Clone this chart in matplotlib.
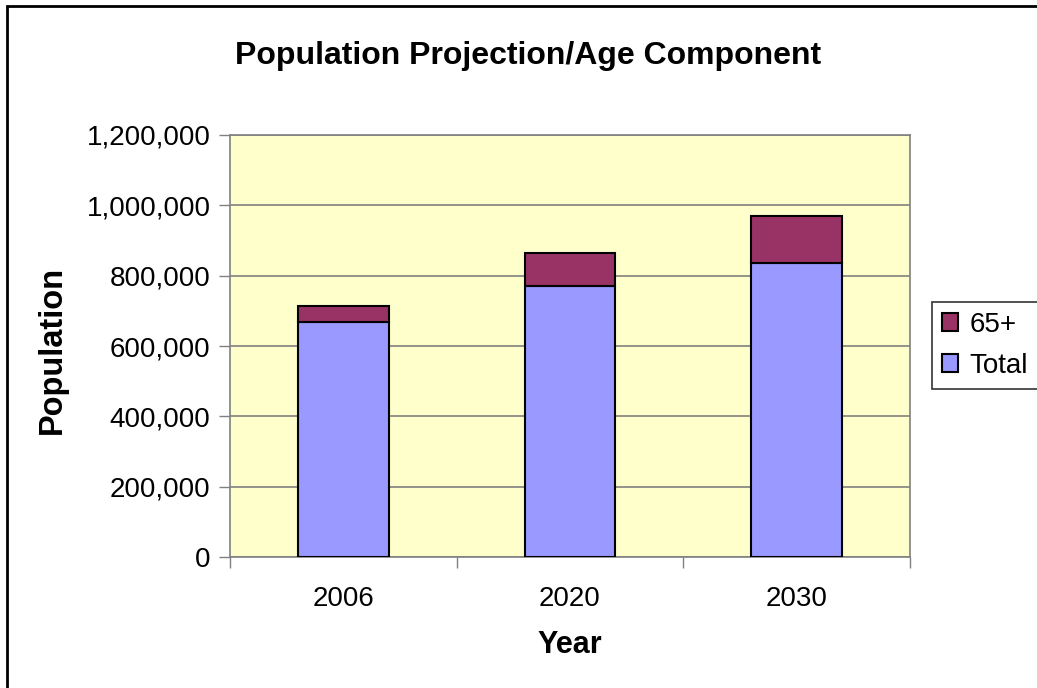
import matplotlib
matplotlib.use("Agg")
import matplotlib.pyplot as plt
from matplotlib.patches import Rectangle
import numpy as np

plt.rcParams['font.family'] = ['Liberation Sans', 'DejaVu Sans']

years = ['2006', '2020', '2030']
total = [669000, 771000, 835000]
age65 = [45500, 94600, 135400]

W, H = 1037, 688
fig = plt.figure(figsize=(W/100, H/100), dpi=100)
ax = fig.add_axes([230/W, 1 - 557/H, (910-230)/W, (557-135)/H])
ax.set_facecolor('#FFFFCC')

x = np.arange(len(years))
ax.bar(x, total, width=0.4, color='#9999FF', edgecolor='black', linewidth=1.5,
       label='Total', zorder=3)
ax.bar(x, age65, bottom=total, width=0.4, color='#993366', edgecolor='black',
       linewidth=1.5, label='65+', zorder=3)

ax.set_xlim(-0.5, 2.5)
ax.set_ylim(0, 1200000)
ax.set_yticks(np.arange(0, 1200001, 200000))
ax.yaxis.set_major_formatter(matplotlib.ticker.FuncFormatter(lambda v, p: f'{int(v):,}'))
ax.yaxis.grid(True, color='#808080', linewidth=1.2, zorder=0)
ax.set_xticks(x)
ax.set_xticklabels(years)
ax.set_xticks([-0.5, 0.5, 1.5, 2.5], minor=True)
ax.tick_params(axis='x', which='major', length=0, labelsize=20, pad=21)
ax.tick_params(axis='x', which='minor', length=8, width=1, color='#808080', direction='out')
ax.tick_params(axis='y', length=8, width=1, color='#808080', labelsize=20, pad=6)
for s in ax.spines.values():
    s.set_color('#808080')
    s.set_linewidth(1.2)

fig.text(528/W, 1 - 56/H, 'Population Projection/Age Component', fontsize=23,
         fontweight='bold', ha='center', va='center')
fig.text(52/W, 1 - 350/H, 'Population', fontsize=23.5, fontweight='bold',
         rotation=90, ha='center', va='center')
fig.text(570/W, 1 - 645/H, 'Year', fontsize=22, fontweight='bold',
         ha='center', va='center')

h, l = ax.get_legend_handles_labels()
leg = fig.legend(h[::-1], l[::-1], loc='upper left', bbox_to_anchor=(932/W, 1 - 302/H),
                 fontsize=20, frameon=True, fancybox=False, edgecolor='black',
                 handlelength=0.6, handleheight=0.6, handletextpad=0.4,
                 borderpad=0.35, labelspacing=0.55, borderaxespad=0)
leg.get_frame().set_linewidth(1.2)

fig.patches.append(Rectangle((7/W, -0.1), 1.2, 1 - 6/H + 0.1, transform=fig.transFigure,
                             fill=False, edgecolor='black', linewidth=2, clip_on=False))

fig.savefig('out.png', dpi=100)
